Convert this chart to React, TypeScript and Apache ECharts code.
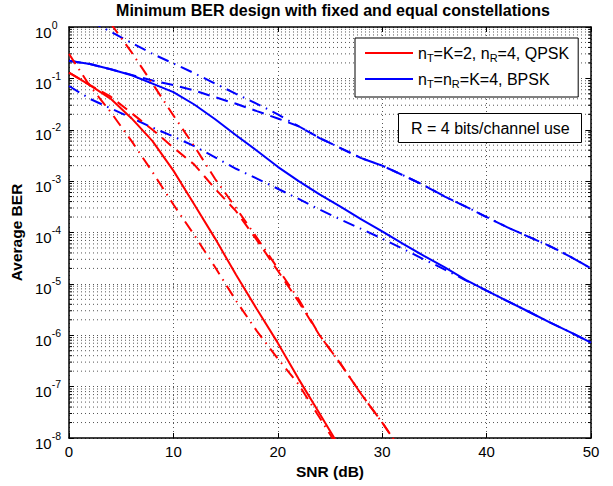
import React, { useEffect, useRef } from 'react';
import * as echarts from 'echarts';

const FONT = '"Liberation Sans", Arial, Helvetica, sans-serif';

// SNR grid (dB)
const snr = [0, 2, 4, 6, 8, 10, 12, 14, 16, 18, 20, 22, 24, 26, 28, 30, 32, 34, 36, 38, 40, 42, 44, 46, 48, 50];

// n_T=K=2, n_R=4, QPSK (red)
const redSolid = [0.13, 0.074, 0.04, 0.0166, 6.0e-3, 1.6e-3, 3.5e-4, 7.6e-5, 1.5e-5, 3.2e-6, 7.1e-7, 1.4e-7, 3.0e-8, 6.3e-9];
const redDashed = [0.13, 0.074, 0.044, 0.021, 0.01, 4.5e-3, 2.1e-3, 7.1e-4, 2.6e-4, 7.1e-5, 1.8e-5, 4.5e-6, 1.0e-6, 2.8e-7, 7.1e-8, 2.0e-8, 5.0e-9];
const redDashDotHigh = [null, null, 1.17, 0.32, 0.079, 0.019, 4.8e-3, 1.1e-3, 3.0e-4, 7.9e-5, 2.0e-5, 5.0e-6, 1.0e-6, 2.8e-7, 7.1e-8, 2.0e-8, 5.0e-9];
const redDashDotLow = [0.3, 0.071, 0.022, 6.0e-3, 1.5e-3, 3.5e-4, 8.9e-5, 2.1e-5, 4.7e-6, 1.2e-6, 3.5e-7, 1.1e-7, 2.5e-8, 5.6e-9];

// n_T=n_R=K=4, BPSK (blue)
const blueSolid = [0.22, 0.19, 0.15, 0.115, 0.079, 0.054, 0.031, 0.016, 7.8e-3, 3.9e-3, 1.9e-3, 1.0e-3, 5.5e-4, 3.2e-4, 1.8e-4, 1.05e-4, 6.0e-5, 3.5e-5, 2.1e-5, 1.2e-5, 7.4e-6, 4.6e-6, 2.9e-6, 1.8e-6, 1.15e-6, 7.2e-7];
const blueDashed = [0.22, 0.19, 0.15, 0.117, 0.091, 0.074, 0.058, 0.043, 0.032, 0.023, 0.0166, 0.0117, 6.9e-3, 4.4e-3, 2.8e-3, 2.0e-3, 1.3e-3, 8.3e-4, 5.0e-4, 3.2e-4, 2.0e-4, 1.26e-4, 8.3e-5, 5.5e-5, 3.4e-5, 2.0e-5];
const blueDashDotHigh = [null, 1.32, 0.81, 0.49, 0.3, 0.195, 0.126, 0.079, 0.05, 0.032, 0.02, 0.0117, 6.9e-3, 4.4e-3, 2.8e-3, 2.0e-3, 1.3e-3, 8.3e-4, 5.0e-4, 3.2e-4, 2.0e-4, 1.26e-4, 8.3e-5, 5.5e-5, 3.4e-5, 2.0e-5];
const blueDashDotLow = [0.071, 0.04, 0.026, 0.017, 0.011, 7.4e-3, 4.8e-3, 2.9e-3, 1.74e-3, 1.12e-3, 7.1e-4, 4.5e-4, 2.8e-4, 1.8e-4, 1.17e-4, 7.6e-5, 4.8e-5, 3.0e-5, 1.9e-5, 1.17e-5, 7.4e-6, 4.6e-6, 2.9e-6, 1.8e-6, 1.15e-6, 7.2e-7];

const legendNames = ['nT=K=2, nR=4, QPSK', 'nT=nR=K=4, BPSK'];
const legendRich: Record<string, string> = {
  'nT=K=2, nR=4, QPSK': '{a|n}{s|T}{a|=K=2, n}{s|R}{a|=4, QPSK}',
  'nT=nR=K=4, BPSK': '{a|n}{s|T}{a|=n}{s|R}{a|=K=4, BPSK}',
};

const titleText = 'Minimum BER design with fixed and equal constellations';
const boxText = 'R = 4 bits/channel use';
const xName = 'SNR (dB)';
const yName = 'Average BER';

const RED = '#ff0000';
const BLUE = '#0000ff';
const DASHED = [12, 7];
const DASHDOT = [12, 6, 1.5, 6];

function pairs(vals: (number | null)[]) {
  return snr
    .map((x, i) => [x, vals[i]])
    .filter((p) => p[1] !== null && p[1] !== undefined);
}

// minor log positions 2..9 x 10^k
const minorVals: number[] = [];
for (let k = -8; k < 0; k++) {
  for (let m = 2; m <= 9; m++) minorVals.push(m * Math.pow(10, k));
}

function lineSeries(name: string, vals: (number | null)[], color: string, type: any, z: number) {
  return {
    name,
    type: 'line',
    data: pairs(vals),
    showSymbol: false,
    symbol: 'none',
    smooth: false,
    clip: true,
    z,
    lineStyle: { color, width: 2, type },
    itemStyle: { color },
  };
}

export default function App() {
  const ref = useRef<HTMLDivElement>(null);
  useEffect(() => {
    document.body.style.margin = '0';
    if (!ref.current) return;
    const chart = echarts.init(ref.current, undefined, { renderer: 'svg' });
    const gridLine = { type: [1, 3], color: '#555', width: 1 };
    const option: any = {
      animation: false,
      backgroundColor: '#fff',
      textStyle: { fontFamily: FONT },
      title: [
        {
          text: titleText,
          left: 333,
          textAlign: 'center',
          top: 2,
          padding: 0,
          textStyle: { fontFamily: FONT, fontSize: 16, fontWeight: 'bold', color: '#000' },
        },
        {
          text: boxText,
          left: 398,
          top: 113,
          padding: [7, 12, 7, 13],
          borderColor: '#000',
          borderWidth: 1,
          backgroundColor: '#fff',
          textStyle: { fontFamily: FONT, fontSize: 16, fontWeight: 'normal', color: '#000' },
        },
      ],
      legend: {
        data: legendNames,
        orient: 'vertical',
        left: 355,
        top: 38,
        padding: [7, 9, 8, 10],
        itemGap: 8,
        itemWidth: 48,
        itemHeight: 2,
        icon: 'rect',
        borderColor: '#000',
        borderWidth: 1,
        backgroundColor: '#fff',
        borderRadius: 0,
        formatter: (name: string) => legendRich[name] || name,
        textStyle: {
          fontFamily: FONT,
          fontSize: 16,
          color: '#000',
          rich: {
            a: { fontFamily: FONT, fontSize: 16, color: '#000', lineHeight: 20 },
            s: { fontFamily: FONT, fontSize: 11, color: '#000', verticalAlign: 'bottom', lineHeight: 12 },
          },
        },
      },
      grid: { left: 69, right: 22, top: 27, bottom: 48, containLabel: false },
      xAxis: [
        {
          type: 'value',
          min: 0,
          max: 50,
          interval: 10,
          name: xName,
          nameLocation: 'middle',
          nameGap: 25,
          nameTextStyle: { fontFamily: FONT, fontSize: 15.5, fontWeight: 'bold', color: '#000' },
          axisLine: { show: true, onZero: false, lineStyle: { color: '#000', width: 1.5 } },
          axisTick: { show: true, inside: true, length: 5, lineStyle: { color: '#000' } },
          axisLabel: { fontFamily: FONT, fontSize: 15, color: '#000', margin: 6 },
          splitLine: { show: true, lineStyle: gridLine },
        },
        {
          type: 'value',
          position: 'top',
          min: 0,
          max: 50,
          interval: 10,
          axisLine: { show: true, onZero: false, lineStyle: { color: '#000', width: 1.5 } },
          axisTick: { show: true, inside: true, length: 5, lineStyle: { color: '#000' } },
          axisLabel: { show: false },
          splitLine: { show: false },
        },
      ],
      yAxis: [
        {
          type: 'log',
          logBase: 10,
          min: 1e-8,
          max: 1,
          splitNumber: 8,
          name: yName,
          nameLocation: 'middle',
          nameGap: 44,
          nameTextStyle: { fontFamily: FONT, fontSize: 15.5, fontWeight: 'bold', color: '#000' },
          axisLine: { show: true, onZero: false, lineStyle: { color: '#000', width: 1.5 } },
          axisTick: { show: true, inside: true, length: 5, lineStyle: { color: '#000' } },
          axisLabel: {
            align: 'left',
            margin: 34,
            formatter: (v: number) => {
              const e = Math.round(Math.log10(v));
              return '{b|10}{e|' + e + '}';
            },
            rich: {
              b: { fontFamily: FONT, fontSize: 15, color: '#000', lineHeight: 15, padding: [10, 0, 0, 0] },
              e: { fontFamily: FONT, fontSize: 10.5, color: '#000', lineHeight: 16, verticalAlign: 'top' },
            },
          },
          splitLine: { show: true, lineStyle: gridLine },
        },
        {
          type: 'log',
          logBase: 10,
          min: 1e-8,
          max: 1,
          splitNumber: 8,
          position: 'right',
          axisLine: { show: true, onZero: false, lineStyle: { color: '#000', width: 1.5 } },
          axisTick: { show: true, inside: true, length: 5, lineStyle: { color: '#000' } },
          axisLabel: { show: false },
          splitLine: { show: false },
        },
      ],
      series: [
        {
          name: 'minor-grid',
          type: 'custom',
          xAxisIndex: 0,
          yAxisIndex: 0,
          silent: true,
          z: 1,
          data: minorVals.map((v) => [0, v]),
          encode: { x: 0, y: 1 },
          renderItem: (params: any, api: any) => {
            const v = api.value(1);
            const p0 = api.coord([0, v]);
            const p1 = api.coord([50, v]);
            return {
              type: 'group',
              children: [
                {
                  type: 'line',
                  shape: { x1: p0[0], y1: p0[1], x2: p1[0], y2: p1[1] },
                  style: { stroke: '#555', lineWidth: 1, lineDash: [1, 3] },
                },
                {
                  type: 'line',
                  shape: { x1: p0[0], y1: p0[1], x2: p0[0] + 3, y2: p0[1] },
                  style: { stroke: '#000', lineWidth: 1 },
                },
                {
                  type: 'line',
                  shape: { x1: p1[0] - 3, y1: p1[1], x2: p1[0], y2: p1[1] },
                  style: { stroke: '#000', lineWidth: 1 },
                },
              ],
            };
          },
        },
        lineSeries('blue-dashdot-high', blueDashDotHigh, BLUE, DASHDOT, 3),
        lineSeries('blue-dashed', blueDashed, BLUE, DASHED, 3),
        lineSeries('blue-dashdot-low', blueDashDotLow, BLUE, DASHDOT, 3),
        lineSeries(legendNames[1], blueSolid, BLUE, 'solid', 4),
        lineSeries('red-dashdot-high', redDashDotHigh, RED, DASHDOT, 5),
        lineSeries('red-dashed', redDashed, RED, DASHED, 5),
        lineSeries('red-dashdot-low', redDashDotLow, RED, DASHDOT, 5),
        lineSeries(legendNames[0], redSolid, RED, 'solid', 6),
      ],
    };
    chart.setOption(option);
    return () => {
      chart.dispose();
    };
  }, []);
  return <div ref={ref} style={{ width: 613, height: 486 }} />;
}
